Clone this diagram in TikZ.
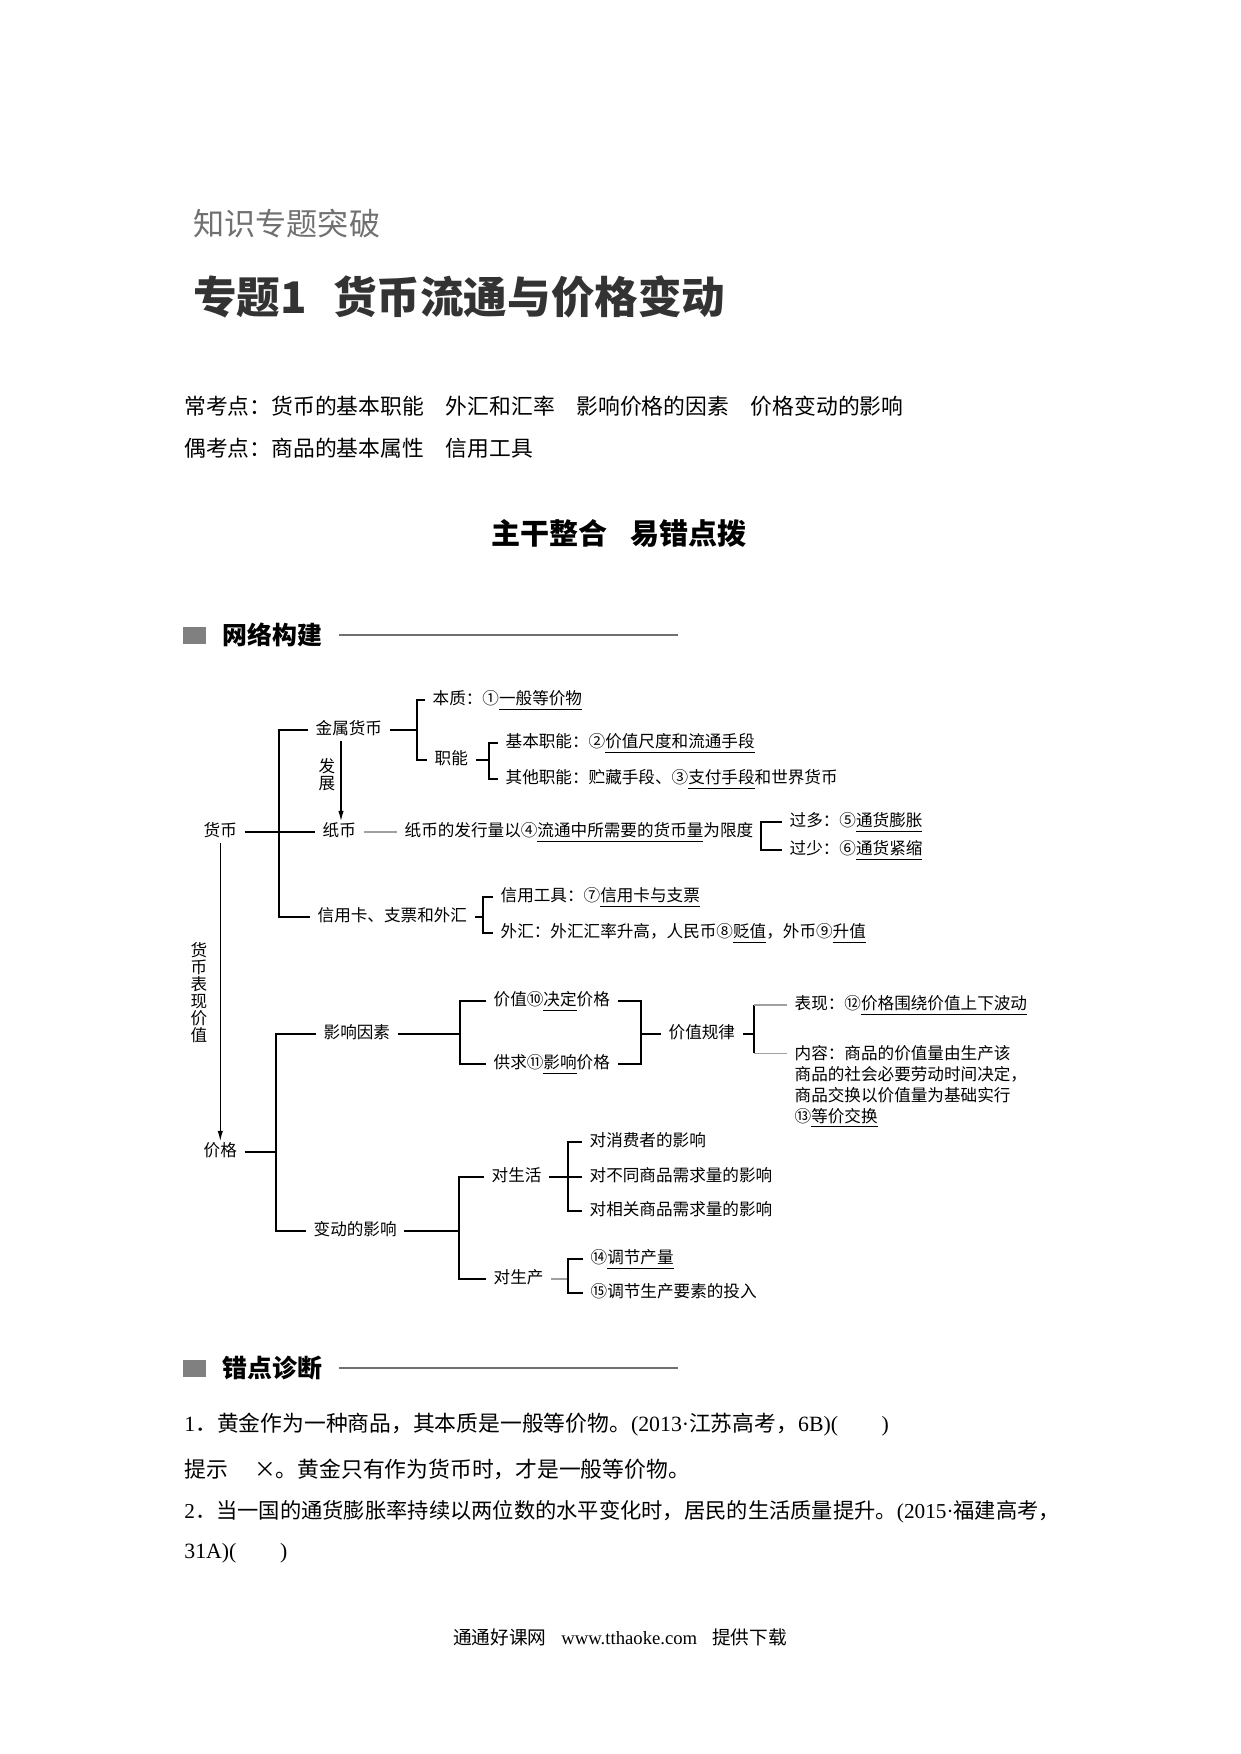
\documentclass[tikz,border=0pt]{standalone}
\usepackage{fontspec}
\setmainfont{Noto Sans CJK SC}
\newfontfamily\latf{Liberation Serif}
\usetikzlibrary{arrows.meta, positioning}
\definecolor{kpgray}{RGB}{112,112,112}
\definecolor{kpdark}{RGB}{51,51,51}
\definecolor{kpbox}{RGB}{128,128,128}
\definecolor{kpfaint}{RGB}{160,160,160}
\newcommand{\ans}[1]{\underline{#1}}
\newcommand{\tms}[1]{{\latf #1}}

\begin{document}
\begin{tikzpicture}[x=0.016933cm, y=-0.016933cm,
    lbl/.style={font=\fontsize{8}{10}\selectfont, anchor=west, inner xsep=3.5pt, inner ysep=1pt, text height=6.4pt, text depth=1.6pt},
    vtxt/.style={font=\fontsize{8}{8.2}\selectfont, align=center, inner sep=0pt},
    body/.style={font=\fontsize{10.5}{13}\selectfont, anchor=west, inner sep=0pt},
    sechead/.style={font=\fontsize{12}{14}\selectfont\bfseries, anchor=west, inner sep=0pt},
    link/.style={line width=0.6pt},
    faint/.style={link, kpfaint},
    arr/.style={link, -{Latex[length=5pt,width=2.6pt]}},
    rule/.style={line width=0.5pt, kpgray}]
    \useasboundingbox (0,0) rectangle (1240,1754);

    % page head
    \node[font=\fontsize{15}{18}\selectfont, text=kpgray, anchor=west, inner sep=0pt] (kicker) at (193,224) {知识专题突破};
    \node[font=\fontsize{21}{25}\selectfont\bfseries, text=kpdark, anchor=west, inner sep=0pt] (title) at (193,297) {专题1\hspace{0.6em}货币流通与价格变动};
    \node[body] (changkao) at (184,406) {常考点：货币的基本职能\hspace{1em}外汇和汇率\hspace{1em}影响价格的因素\hspace{1em}价格变动的影响};
    \node[body] (oukao) at (184,448) {偶考点：商品的基本属性\hspace{1em}信用工具};
    \node[font=\fontsize{14}{17}\selectfont\bfseries, inner sep=0pt] (zhugan) at (619,533) {主干整合\hspace{0.8em}易错点拨};

    % section bars
    \coordinate (ruleend) at (678,0);
    \fill[kpbox] (183,627) rectangle (206,644);
    \node[sechead] (wangluo) at (222,635) {网络构建};
    \draw[rule] ([xshift=8pt]wangluo.east) -- (wangluo.east -| ruleend);
    \fill[kpbox] (183,1360) rectangle (206,1377);
    \node[sechead] (cuodian) at (222,1368) {错点诊断};
    \draw[rule] ([xshift=8pt]cuodian.east) -- (cuodian.east -| ruleend);

    % money
    \node[lbl] (huobi) at (196,832) {货币};
    \node[lbl] (jinshu) at (308,730) {金属货币};
    \node[lbl] (zhibi) at (315,832) {纸币};
    \node[lbl] (xinyong) at (310,917) {信用卡、支票和外汇};
    \coordinate (s1) at (279,0);
    \draw[link] (huobi.east) -- (zhibi.west);
    \draw[link] (jinshu.west) -| (s1 |- xinyong) -- (xinyong.west);

    % metal money
    \node[lbl] (benzhi) at (425,700) {本质：①\ans{一般等价物}};
    \node[lbl] (zhineng) at (427,760) {职能};
    \coordinate (s2) at (417,0);
    \draw[link] (jinshu.east) -- (s2 |- jinshu);
    \draw[link] (benzhi.west) -| (s2 |- zhineng) -- (zhineng.west);
    \node[lbl] (jiben) at (498,743) {基本职能：②\ans{价值尺度和流通手段}};
    \node[lbl] (qita) at (498,779) {其他职能：贮藏手段、③\ans{支付手段}和世界货币};
    \coordinate (s3) at (489,0);
    \draw[link] (zhineng.east) -- (s3 |- zhineng);
    \draw[link] (jiben.west) -| (s3 |- qita) -- (qita.west);
    \node[vtxt] (fazhan) at (327,775) {发\\展};
    \coordinate (ax) at (341,0);
    \draw[arr] (jinshu.south -| ax) -- (zhibi.north -| ax);

    % paper money
    \node[lbl] (xiandu) at (397,832) {纸币的发行量以④\ans{流通中所需要的货币量}为限度};
    \draw[faint] (zhibi.east) -- (xiandu.west);
    \node[lbl] (guoduo) at (782,822) {过多：⑤\ans{通货膨胀}};
    \node[lbl] (guoshao) at (782,850) {过少：⑥\ans{通货紧缩}};
    \coordinate (s4) at (761,0);
    \draw[link] (xiandu.east) -- (s4 |- xiandu);
    \draw[link] (guoduo.west) -| (s4 |- guoshao) -- (guoshao.west);

    % credit and foreign exchange
    \node[lbl] (gongju) at (493,897) {信用工具：⑦\ans{信用卡与支票}};
    \node[lbl] (waihui) at (493,933) {外汇：外汇汇率升高，人民币⑧\ans{贬值}，外币⑨\ans{升值}};
    \coordinate (s5) at (483,0);
    \draw[link] (xinyong.east) -- (s5 |- xinyong);
    \draw[link] (gongju.west) -| (s5 |- waihui) -- (waihui.west);

    % price
    \node[vtxt] (biaoxian) at (199,993) {货\\币\\表\\现\\价\\值};
    \node[lbl] (jiage) at (196,1152) {价格};
    \draw[arr] (huobi.south) -- (jiage.north);
    \node[lbl] (yinsu) at (316,1034) {影响因素};
    \node[lbl] (biandong) at (306,1231) {变动的影响};
    \coordinate (s6) at (276,0);
    \draw[link] (jiage.east) -- (s6 |- jiage);
    \draw[link] (yinsu.west) -| (s6 |- biandong) -- (biandong.west);

    % factors
    \node[lbl] (jueding) at (486,1001) {价值⑩\ans{决定}价格};
    \node[lbl] (gongqiu) at (486,1064) {供求⑪\ans{影响}价格};
    \coordinate (s7) at (460,0);
    \draw[link] (yinsu.east) -- (s7 |- yinsu);
    \draw[link] (jueding.west) -| (s7 |- gongqiu) -- (gongqiu.west);
    \coordinate (s8) at (641,0);
    \draw[link] (jueding.east) -| (s8 |- gongqiu) -- (gongqiu.east);
    \node[lbl] (guilv) at (661,1034) {价值规律};
    \draw[link] (s8 |- guilv) -- (guilv.west);

    % law of value
    \node[lbl] (xianxiang) at (787,1005) {表现：⑫\ans{价格围绕价值上下波动}};
    \node[font=\fontsize{8}{10.1}\selectfont, anchor=north west, align=left, inner xsep=3.5pt, inner ysep=1pt] (neirong) at (787,1043)
      {内容：商品的价值量由生产该\\商品的社会必要劳动时间决定，\\商品交换以价值量为基础实行\\⑬\ans{等价交换}};
    \coordinate (s9) at (754,0);
    \coordinate (nr) at ([yshift=-5pt]neirong.north west);
    \draw[link] (guilv.east) -- (s9 |- guilv);
    \draw[link] (s9 |- xianxiang) -- (s9 |- nr);
    \draw[faint] (s9 |- xianxiang) -- (xianxiang.west);
    \draw[faint] (s9 |- nr) -- (nr);

    % effects
    \node[lbl] (shenghuo) at (484,1177) {对生活};
    \node[lbl] (shengchan) at (486,1279) {对生产};
    \coordinate (s10) at (459,0);
    \draw[link] (biandong.east) -- (s10 |- biandong);
    \draw[link] (shenghuo.west) -| (s10 |- shengchan) -- (shengchan.west);
    \coordinate (s11) at (568,0);
    \draw[link] (shenghuo.east) -- (s11 |- shenghuo);
    \foreach \nm/\yy/\tx in {xiaofei/1142/对消费者的影响, butong/1177/对不同商品需求量的影响, xiangguan/1211/对相关商品需求量的影响}
      \node[lbl] (\nm) at (582,\yy) {\tx};
    \draw[link] (xiaofei.west) -| (s11 |- xiangguan) -- (xiangguan.west);
    \draw[link] (s11 |- butong) -- (butong.west);
    \node[lbl] (chanliang) at (583,1259) {⑭\ans{调节产量}};
    \node[lbl] (touru) at (583,1293) {⑮调节生产要素的投入};
    \draw[faint] (shengchan.east) -- (s11 |- shengchan);
    \draw[link] (chanliang.west) -| (s11 |- touru) -- (touru.west);

    % questions
    \node[body] (q1) at (184,1425) {\tms{1}．黄金作为一种商品，其本质是一般等价物。\tms{(2013·}江苏高考，\tms{6B)(\hspace{2em})}};
    \node[body] (tip1) at (184,1469) {提示\hspace{1.2em}×。黄金只有作为货币时，才是一般等价物。};
    \node[body, font=\fontsize{10.25}{13}\selectfont] (q2) at (184,1512) {\tms{2}．当一国的通货膨胀率持续以两位数的水平变化时，居民的生活质量提升。\tms{(2015·}福建高考，};
    \node[body] (q2b) at (184,1553) {\tms{31A)(\hspace{2em})}};

    % footer
    \node[font=\fontsize{9}{11}\selectfont, inner sep=0pt] (footer) at (620,1637) {通通好课网\hspace{0.8em}\tms{www.tthaoke.com}\hspace{0.8em}提供下载};
\end{tikzpicture}
\end{document}
